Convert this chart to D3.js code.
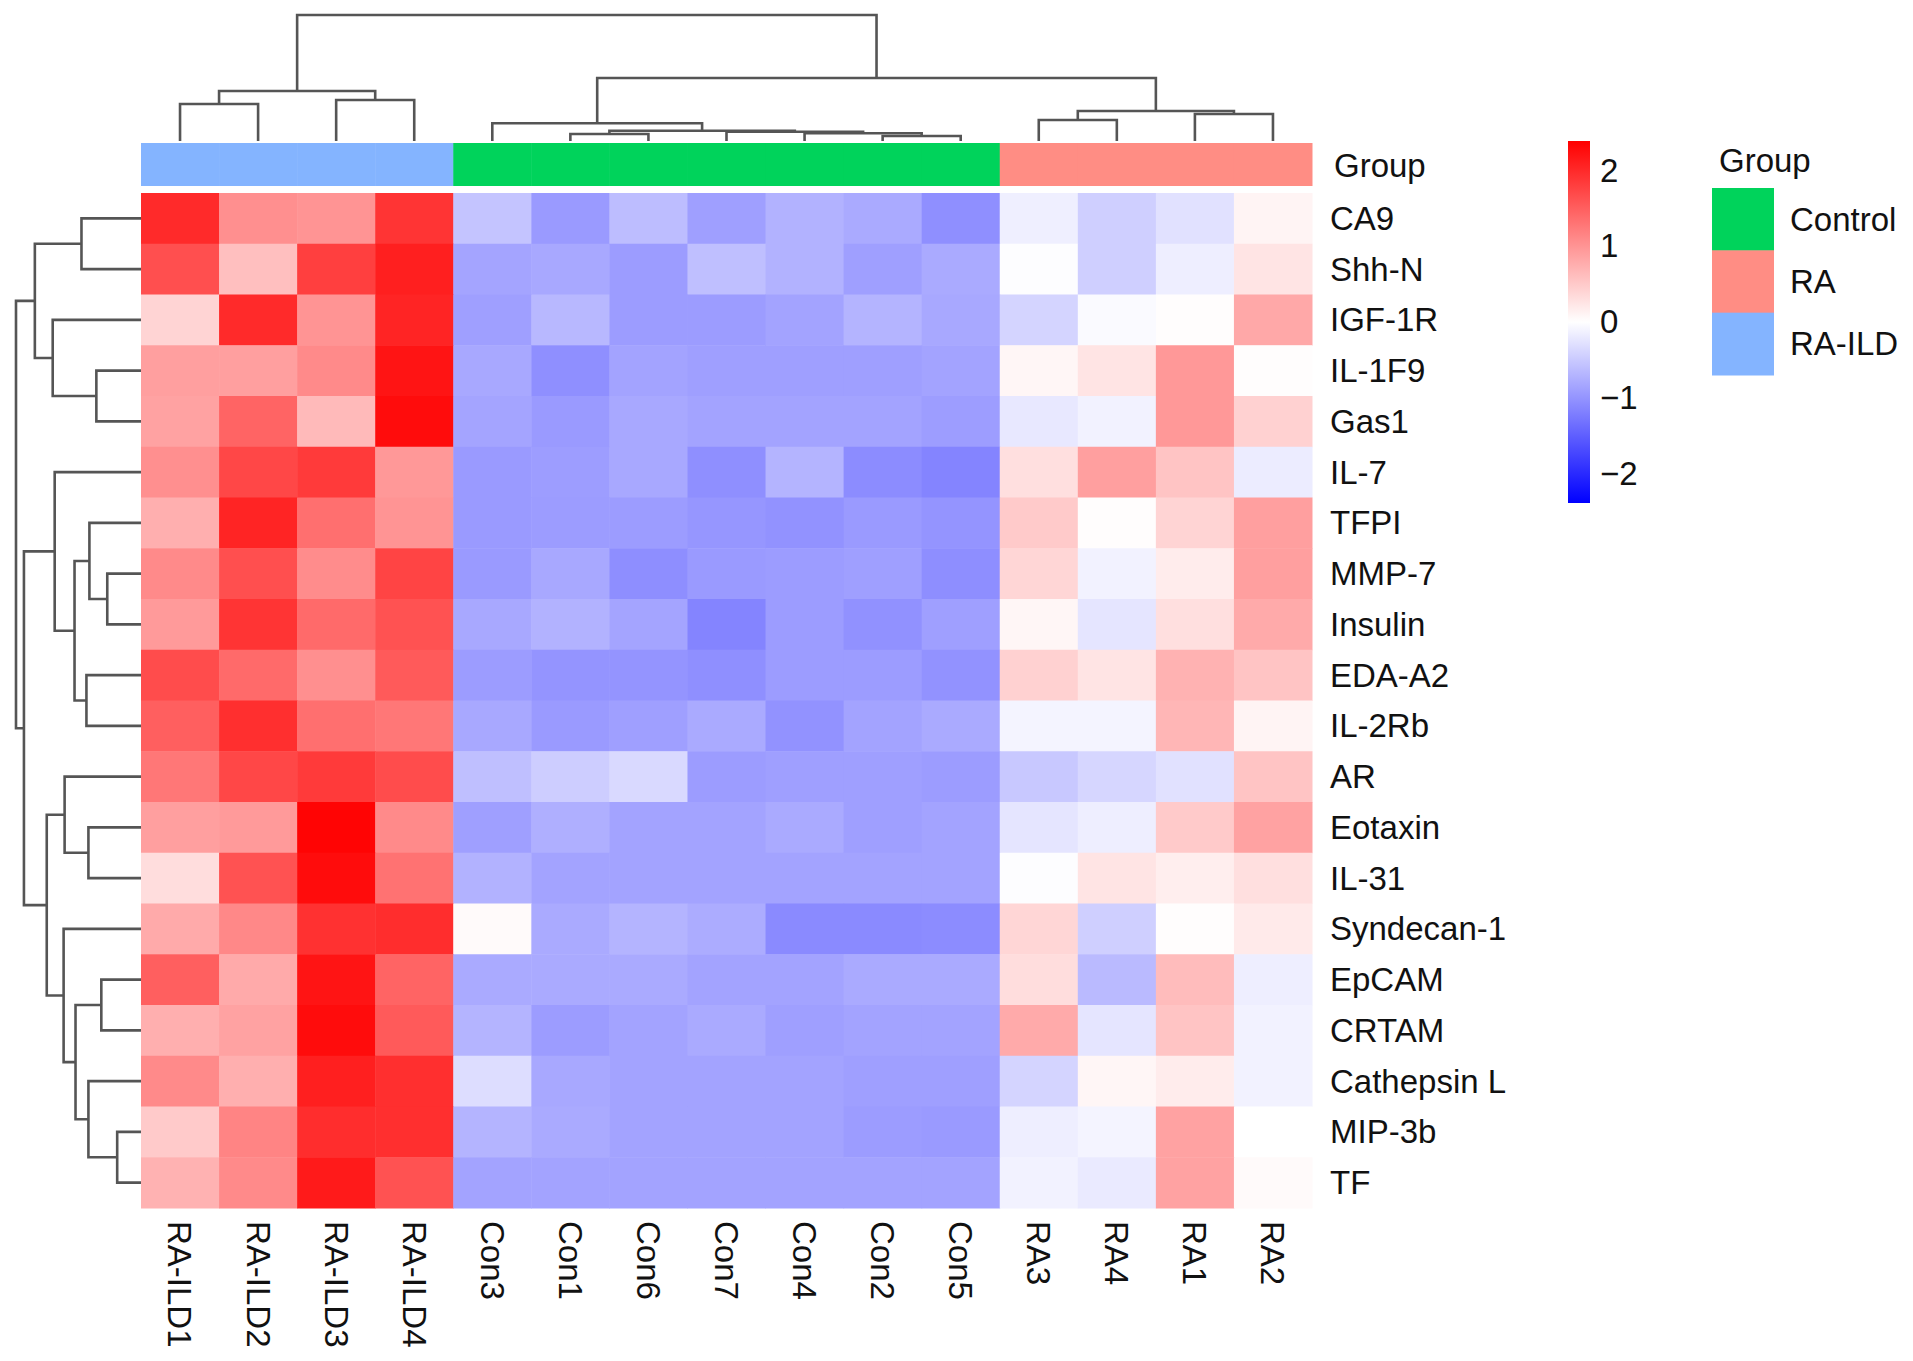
<!DOCTYPE html>
<html>
<head>
<meta charset="utf-8">
<script src="https://cdn.jsdelivr.net/npm/d3@7"></script>
<style>
  html, body { margin: 0; padding: 0; background: #fff; }
  text { font-family: "Liberation Sans", Arial, Helvetica, sans-serif; fill: #111; }
</style>
</head>
<body>
<svg id="chart" width="1913" height="1361"></svg>
<script>
'use strict';

// ---- data ----
var rowLabels = ['CA9', 'Shh-N', 'IGF-1R', 'IL-1F9', 'Gas1', 'IL-7', 'TFPI', 'MMP-7', 'Insulin',
  'EDA-A2', 'IL-2Rb', 'AR', 'Eotaxin', 'IL-31', 'Syndecan-1', 'EpCAM', 'CRTAM', 'Cathepsin L',
  'MIP-3b', 'TF'];

var colLabels = ['RA-ILD1', 'RA-ILD2', 'RA-ILD3', 'RA-ILD4', 'Con3', 'Con1', 'Con6', 'Con7',
  'Con4', 'Con2', 'Con5', 'RA3', 'RA4', 'RA1', 'RA2'];

var colGroups = ['RA-ILD', 'RA-ILD', 'RA-ILD', 'RA-ILD', 'Control', 'Control', 'Control', 'Control',
  'Control', 'Control', 'Control', 'RA', 'RA', 'RA', 'RA'];

var groupNames = ['Control', 'RA', 'RA-ILD'];
var groupColors = ['#00d35b', '#ff8d84', '#84b4ff'];

// z-scores, one row per protein, columns in colLabels order
var values = [
  [2.00, 1.05, 1.00, 1.90, -0.55, -0.95, -0.62, -0.90, -0.72, -0.80, -1.05, -0.15, -0.45, -0.28, 0.10],
  [1.65, 0.60, 1.80, 2.10, -0.85, -0.82, -0.93, -0.60, -0.72, -0.90, -0.80, -0.02, -0.45, -0.16, 0.25],
  [0.40, 2.00, 1.00, 2.05, -0.90, -0.67, -0.93, -0.93, -0.86, -0.70, -0.82, -0.40, -0.05, 0.02, 0.82],
  [0.90, 0.90, 1.10, 2.20, -0.82, -1.05, -0.86, -0.90, -0.90, -0.90, -0.86, 0.08, 0.25, 0.97, 0.02],
  [0.87, 1.45, 0.65, 2.28, -0.85, -0.95, -0.82, -0.86, -0.86, -0.86, -0.92, -0.22, -0.12, 0.97, 0.43],
  [1.05, 1.72, 1.85, 0.97, -0.95, -0.92, -0.82, -1.05, -0.70, -1.08, -1.15, 0.30, 0.90, 0.55, -0.18],
  [0.75, 2.05, 1.35, 1.00, -0.95, -0.93, -0.93, -0.98, -1.02, -0.95, -1.00, 0.50, 0.02, 0.40, 0.90],
  [1.10, 1.65, 1.08, 1.75, -0.95, -0.82, -1.06, -0.95, -0.93, -0.90, -1.06, 0.38, -0.12, 0.18, 0.90],
  [0.95, 1.90, 1.40, 1.62, -0.82, -0.72, -0.85, -1.15, -0.93, -1.03, -0.90, 0.08, -0.24, 0.30, 0.80],
  [1.68, 1.40, 1.05, 1.55, -0.93, -1.00, -1.00, -1.05, -0.93, -0.93, -1.02, 0.43, 0.25, 0.72, 0.55],
  [1.50, 1.95, 1.35, 1.27, -0.82, -0.95, -0.90, -0.80, -1.02, -0.86, -0.80, -0.10, -0.10, 0.68, 0.10],
  [1.27, 1.72, 1.85, 1.68, -0.60, -0.47, -0.36, -0.93, -0.90, -0.90, -0.93, -0.52, -0.38, -0.28, 0.55],
  [0.90, 0.95, 2.35, 1.10, -0.90, -0.75, -0.86, -0.86, -0.80, -0.90, -0.86, -0.24, -0.16, 0.50, 0.87],
  [0.32, 1.62, 2.28, 1.32, -0.72, -0.86, -0.86, -0.86, -0.86, -0.86, -0.86, -0.02, 0.25, 0.16, 0.30],
  [0.80, 1.12, 1.93, 1.97, 0.05, -0.80, -0.70, -0.78, -1.10, -1.10, -1.08, 0.38, -0.45, 0.02, 0.20],
  [1.50, 0.80, 2.20, 1.45, -0.80, -0.80, -0.80, -0.86, -0.86, -0.80, -0.80, 0.32, -0.65, 0.63, -0.16],
  [0.75, 0.87, 2.28, 1.55, -0.70, -0.93, -0.86, -0.80, -0.90, -0.86, -0.86, 0.80, -0.24, 0.55, -0.12],
  [1.10, 0.75, 2.10, 1.95, -0.32, -0.82, -0.86, -0.86, -0.86, -0.90, -0.90, -0.40, 0.08, 0.18, -0.12],
  [0.50, 1.15, 1.97, 1.95, -0.70, -0.80, -0.86, -0.86, -0.86, -0.93, -0.95, -0.16, -0.10, 0.87, 0.00],
  [0.72, 1.10, 2.15, 1.62, -0.86, -0.86, -0.86, -0.86, -0.86, -0.86, -0.86, -0.12, -0.20, 0.87, 0.05]
];

var colorTicks = [-2, -1, 0, 1, 2];
var colorLimit = 2.39;

// dendrograms: [height, left, right], leaves are labels
var colTree = [126,
  [50, [37, 'RA-ILD1', 'RA-ILD2'], [41, 'RA-ILD3', 'RA-ILD4']],
  [63,
    [17.7, 'Con3', [10.3, [7, 'Con1', 'Con6'], [9.3, 'Con7', [7.7, 'Con4', [5, 'Con2', 'Con5']]]]],
    [30, [21, 'RA3', 'RA4'], [27, 'RA1', 'RA2']]]];

var rowTree = [126,
  [107, [60, 'CA9', 'Shh-N'], [89, 'IGF-1R', [45, 'IL-1F9', 'Gas1']]],
  [118,
    [87, 'IL-7', [67, [52, 'TFPI', [34, 'MMP-7', 'Insulin']], [55, 'EDA-A2', 'IL-2Rb']]],
    [95, [77, 'AR', [53, 'Eotaxin', 'IL-31']],
      [78, 'Syndecan-1', [66, [40, 'EpCAM', 'CRTAM'], [53, 'Cathepsin L', [24, 'MIP-3b', 'TF']]]]]]];

// ---- drawing ----
var svg = d3.select('#chart');
var fontSize = 33;

var x = d3.scaleBand().domain(colLabels).range([141, 1312]);
var y = d3.scaleBand().domain(rowLabels).range([193, 1208]);
var color = d3.scaleLinear()
  .domain([-colorLimit, 0, colorLimit])
  .range(['#0000ff', '#ffffff', '#ff0000']);
var groupColor = d3.scaleOrdinal().domain(groupNames).range(groupColors);

var cells = [];
values.forEach(function(row, i) {
  row.forEach(function(v, j) {
    cells.push({ r: rowLabels[i], c: colLabels[j], v: v });
  });
});

svg.append('g').selectAll('rect.cell')
  .data(cells)
  .enter()
  .append('rect')
  .attr('class', 'cell')
  .attr('x', function(d) { return x(d.c); })
  .attr('y', function(d) { return y(d.r); })
  .attr('width', x.bandwidth() + 0.5)
  .attr('height', y.bandwidth() + 0.5)
  .attr('fill', function(d) { return color(d.v); });

// annotation bar
svg.append('g').selectAll('rect.annot')
  .data(colLabels)
  .enter()
  .append('rect')
  .attr('class', 'annot')
  .attr('x', function(d) { return x(d); })
  .attr('y', 143)
  .attr('width', x.bandwidth() + 0.5)
  .attr('height', 43)
  .attr('fill', function(d, i) { return groupColor(colGroups[i]); });

svg.append('text')
  .attr('x', 1334)
  .attr('y', 165)
  .attr('dy', '0.35em')
  .style('font-size', fontSize + 'px')
  .text('Group');

// row labels
svg.append('g').selectAll('text.rowlab')
  .data(rowLabels)
  .enter()
  .append('text')
  .attr('class', 'rowlab')
  .attr('x', 1330)
  .attr('y', function(d) { return y(d) + y.bandwidth() / 2; })
  .attr('dy', '0.35em')
  .style('font-size', fontSize + 'px')
  .text(function(d) { return d; });

// column labels, rotated
svg.append('g').selectAll('text.collab')
  .data(colLabels)
  .enter()
  .append('text')
  .attr('class', 'collab')
  .attr('transform', function(d) {
    return 'translate(' + (x(d) + x.bandwidth() / 2) + ',1221) rotate(90)';
  })
  .attr('dy', '0.35em')
  .style('font-size', fontSize + 'px')
  .text(function(d) { return d; });

// dendrogram helper: returns {p: position, h: height}
function drawTree(node, posOf, hScale, g, horizontal) {
  if (typeof node === 'string') {
    return { p: posOf(node), h: 0 };
  }
  var a = drawTree(node[1], posOf, hScale, g, horizontal);
  var b = drawTree(node[2], posOf, hScale, g, horizontal);
  var h = node[0];
  var pts = [[a.p, a.h], [a.p, h], [b.p, h], [b.p, b.h]];
  var line = d3.line()
    .x(function(d) { return horizontal ? hScale(d[1]) : d[0]; })
    .y(function(d) { return horizontal ? d[0] : hScale(d[1]); });
  g.append('path')
    .attr('d', line(pts))
    .attr('fill', 'none')
    .attr('stroke', '#555')
    .attr('stroke-width', 2.6);
  return { p: (a.p + b.p) / 2, h: h };
}

var colH = d3.scaleLinear().domain([0, 126]).range([141, 15]);
var rowH = d3.scaleLinear().domain([0, 126]).range([141, 16]);

drawTree(colTree, function(d) { return x(d) + x.bandwidth() / 2; }, colH,
  svg.append('g'), false);
drawTree(rowTree, function(d) { return y(d) + y.bandwidth() / 2; }, rowH,
  svg.append('g'), true);

// colour bar
var defs = svg.append('defs');
var grad = defs.append('linearGradient')
  .attr('id', 'cbar')
  .attr('x1', 0).attr('y1', 1).attr('x2', 0).attr('y2', 0);
grad.selectAll('stop')
  .data([-colorLimit, 0, colorLimit])
  .enter()
  .append('stop')
  .attr('offset', function(d, i) { return i / 2; })
  .attr('stop-color', function(d) { return color(d); });

var cb = d3.scaleLinear().domain([-colorLimit, colorLimit]).range([503, 141]);
svg.append('rect')
  .attr('x', 1568)
  .attr('y', cb(colorLimit))
  .attr('width', 22)
  .attr('height', cb(-colorLimit) - cb(colorLimit))
  .attr('fill', 'url(#cbar)');

var cbAxis = svg.append('g')
  .attr('transform', 'translate(1594,0)')
  .call(d3.axisRight(cb).tickValues(colorTicks).tickFormat(d3.format('d'))
    .tickSize(0).tickPadding(6));
cbAxis.select('.domain').remove();
cbAxis.selectAll('text')
  .style('font-size', fontSize + 'px')
  .style('font-family', '"Liberation Sans", Arial, Helvetica, sans-serif')
  .attr('fill', '#111');

// group legend
var legend = svg.append('g');
legend.append('text')
  .attr('x', 1719)
  .attr('y', 160)
  .attr('dy', '0.35em')
  .style('font-size', fontSize + 'px')
  .text('Group');

var ly = d3.scaleBand().domain(groupNames).range([188, 375]);
legend.selectAll('rect')
  .data(groupNames)
  .enter()
  .append('rect')
  .attr('x', 1712)
  .attr('y', function(d) { return ly(d); })
  .attr('width', 62)
  .attr('height', ly.bandwidth() + 0.5)
  .attr('fill', function(d) { return groupColor(d); });

legend.selectAll('text.lab')
  .data(groupNames)
  .enter()
  .append('text')
  .attr('class', 'lab')
  .attr('x', 1790)
  .attr('y', function(d) { return ly(d) + ly.bandwidth() / 2; })
  .attr('dy', '0.35em')
  .style('font-size', fontSize + 'px')
  .text(function(d) { return d; });
</script>
</body>
</html>
